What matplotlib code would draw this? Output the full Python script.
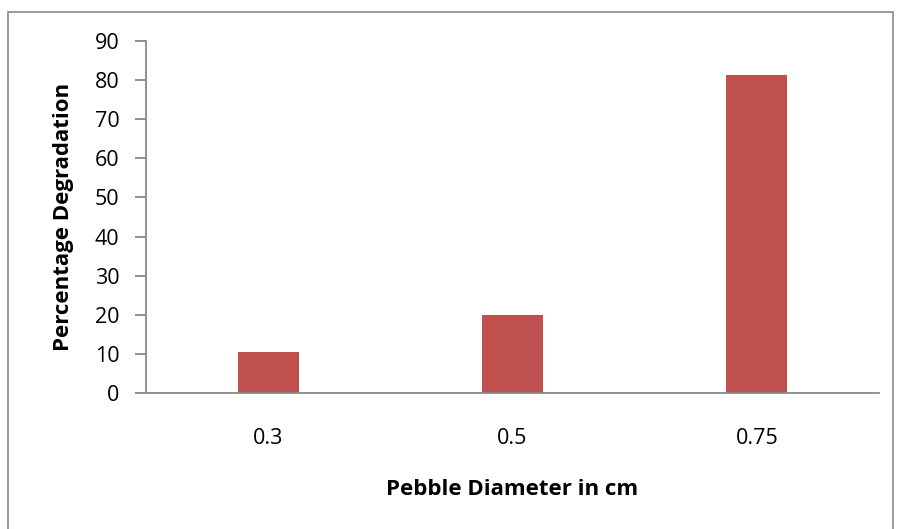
import matplotlib
matplotlib.use("Agg")
import matplotlib.pyplot as plt
from matplotlib.patches import Rectangle

categories = ["0.3", "0.5", "0.75"]
values = [10.4, 19.9, 81.2]
yticks = [0, 10, 20, 30, 40, 50, 60, 70, 80, 90]

plt.rcParams['font.family'] = ['Open Sans', 'DejaVu Sans']

W, H = 897, 529
fig = plt.figure(figsize=(W / 100, H / 100), dpi=100)
fig.patches.append(Rectangle((8 / W, -0.1), (893 - 8) / W, 1.1 - 12 / H,
                             transform=fig.transFigure, fill=False,
                             edgecolor='#888888', linewidth=1.2))

ax = fig.add_axes([146 / W, 1 - 393 / H, (879 - 146) / W, (393 - 41) / H])
x = list(range(len(categories)))
ax.bar(x, values, width=0.25, color='#C0504D')
ax.set_xlim(-0.5, len(categories) - 0.5)
ax.set_ylim(0, 90)
ax.set_yticks(yticks)
ax.set_xticks(x)
ax.set_xticklabels(categories)
for s in ['top', 'right']:
    ax.spines[s].set_visible(False)
for s in ['left', 'bottom']:
    ax.spines[s].set_color('#888888')
    ax.spines[s].set_linewidth(1.3)
ax.tick_params(axis='y', length=8, width=1.3, color='#888888', labelsize=15.5, pad=11)
ax.tick_params(axis='x', length=0, labelsize=15.5, pad=25)
ax.set_xlabel('Pebble Diameter in cm', fontsize=16, fontweight='bold', labelpad=22)
ax.set_ylabel('Percentage Degradation', fontsize=16, fontweight='bold', labelpad=15)

fig.savefig('out.png', dpi=100)
